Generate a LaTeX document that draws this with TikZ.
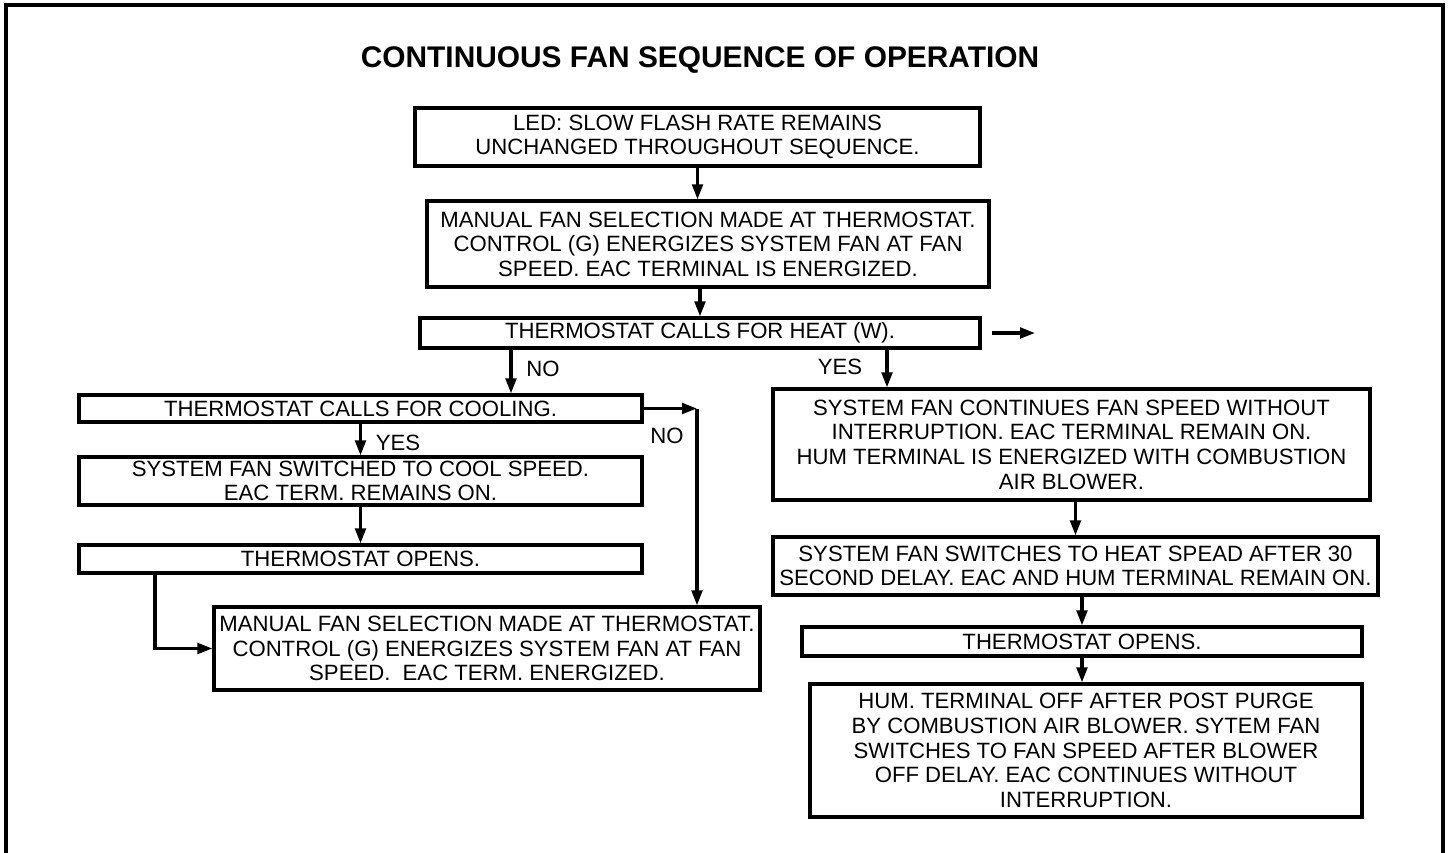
\documentclass[tikz,border=0pt]{standalone}
\usepackage{fontspec}
\setmainfont{Liberation Sans}
\usepackage{tikz}
\usetikzlibrary{calc,positioning,arrows.meta}

\begin{document}
\begin{tikzpicture}[
  x=0.2mm, y=-0.2mm,
  box/.style={draw, line width=1.8pt, inner sep=0pt, align=center,
    font=\fontsize{12.6}{14}\selectfont},
  arr/.style={line width=1.8pt, -{Triangle[length=8.5pt, width=6pt]}},
  lbl/.style={font=\fontsize{12.6}{14}\selectfont, inner sep=0pt},
  ttl/.style={font=\fontsize{17}{20}\selectfont\bfseries},
]
  \useasboundingbox (0,0) rectangle (1448,852);
  % Frame
  \draw[line width=1.8pt] (6,900) -- (6,5) -- (1443,5) -- (1443,900);

  % Title
  \node[ttl] (title) at (700,60) {CONTINUOUS FAN SEQUENCE OF OPERATION};

  % Main column
  \node[box, minimum width=113mm, minimum height=11.6mm] (led) at (697.5,137)
    {LED: SLOW FLASH RATE REMAINS\\UNCHANGED THROUGHOUT SEQUENCE.};
  \node[box, minimum width=112.4mm, minimum height=17.2mm] (manual) at (708,244)
    {MANUAL FAN SELECTION MADE AT THERMOSTAT.\\CONTROL (G) ENERGIZES SYSTEM FAN AT FAN\\SPEED. EAC TERMINAL IS ENERGIZED.};
  \node[box, minimum width=112mm, minimum height=6mm] (heat) at (700,333)
    {THERMOSTAT CALLS FOR HEAT (W).};
  \coordinate (heatout) at (1035,333);

  % No heat: cooling branch
  \node[box, minimum width=112.6mm, minimum height=5.4mm] (cool) at (360.5,408.5)
    {THERMOSTAT CALLS FOR COOLING.};
  \node[box, minimum width=112.6mm, minimum height=9.6mm] (coolspeed) at (360.5,481)
    {SYSTEM FAN SWITCHED TO COOL SPEED.\\EAC TERM. REMAINS ON.};
  \node[box, minimum width=112.6mm, minimum height=5.6mm] (opensL) at (360.5,559)
    {THERMOSTAT OPENS.};
  \node[box, minimum width=109.2mm, minimum height=16.6mm] (manualB) at (487,648.5)
    {MANUAL FAN SELECTION MADE AT THERMOSTAT.\\CONTROL (G) ENERGIZES SYSTEM FAN AT FAN\\SPEED.\ \ EAC TERM. ENERGIZED.};
  \coordinate (nocorner) at (697,408.5);

  % Heat branch
  \node[box, minimum width=119.4mm, minimum height=22.2mm] (heatyes) at (1071.5,444.5)
    {SYSTEM FAN CONTINUES FAN SPEED WITHOUT\\INTERRUPTION. EAC TERMINAL REMAIN ON.\\HUM TERMINAL IS ENERGIZED WITH COMBUSTION\\AIR BLOWER.};
  \node[box, minimum width=121mm, minimum height=11.6mm] (heatspeed) at (1075.5,566)
    {SYSTEM FAN SWITCHES TO HEAT SPEAD AFTER 30\\SECOND DELAY. EAC AND HUM TERMINAL REMAIN ON.};
  \node[box, minimum width=112mm, minimum height=5.8mm] (opensR) at (1082,641.5)
    {THERMOSTAT OPENS.};
  \node[box, minimum width=110.4mm, minimum height=26.6mm] (hum) at (1086,750.5)
    {HUM. TERMINAL OFF AFTER POST PURGE\\BY COMBUSTION AIR BLOWER. SYTEM FAN\\SWITCHES TO FAN SPEED AFTER BLOWER\\OFF DELAY. EAC CONTINUES WITHOUT\\INTERRUPTION.};

  % Labels
  \node[lbl] (noheat) at (543,369) {NO};
  \node[lbl] (yesheat) at (840,367) {YES};
  \node[lbl] (yescool) at (398,443) {YES};
  \node[lbl] (nocool) at (667,436) {NO};

  % Arrows
  \draw[arr] (led.south) -- (led.south |- manual.north);
  \draw[arr] (manual.south -| heat.north) -- (heat.north);
  \draw[arr, shorten <=6pt] (heat.east) -- (heatout);
  \draw[arr] (511,0 |- heat.south) -- (511,0 |- cool.north);
  \draw[arr] (887,0 |- heat.south) -- (887,0 |- heatyes.north);
  \draw[arr] (cool.south) -- (coolspeed.north);
  \draw[arr] (coolspeed.south) -- (opensL.north);
  \draw[arr] (155,0 |- opensL.south) |- (manualB.west);
  \draw[arr] (cool.east) -- (nocorner);
  \draw[arr] (nocorner) -- (nocorner |- manualB.north);
  \draw[arr] (heatyes.south -| heatspeed.north) -- (heatspeed.north);
  \draw[arr] (heatspeed.south -| opensR.north) -- (opensR.north);
  \draw[arr] (opensR.south) -- (opensR.south |- hum.north);
\end{tikzpicture}
\end{document}
